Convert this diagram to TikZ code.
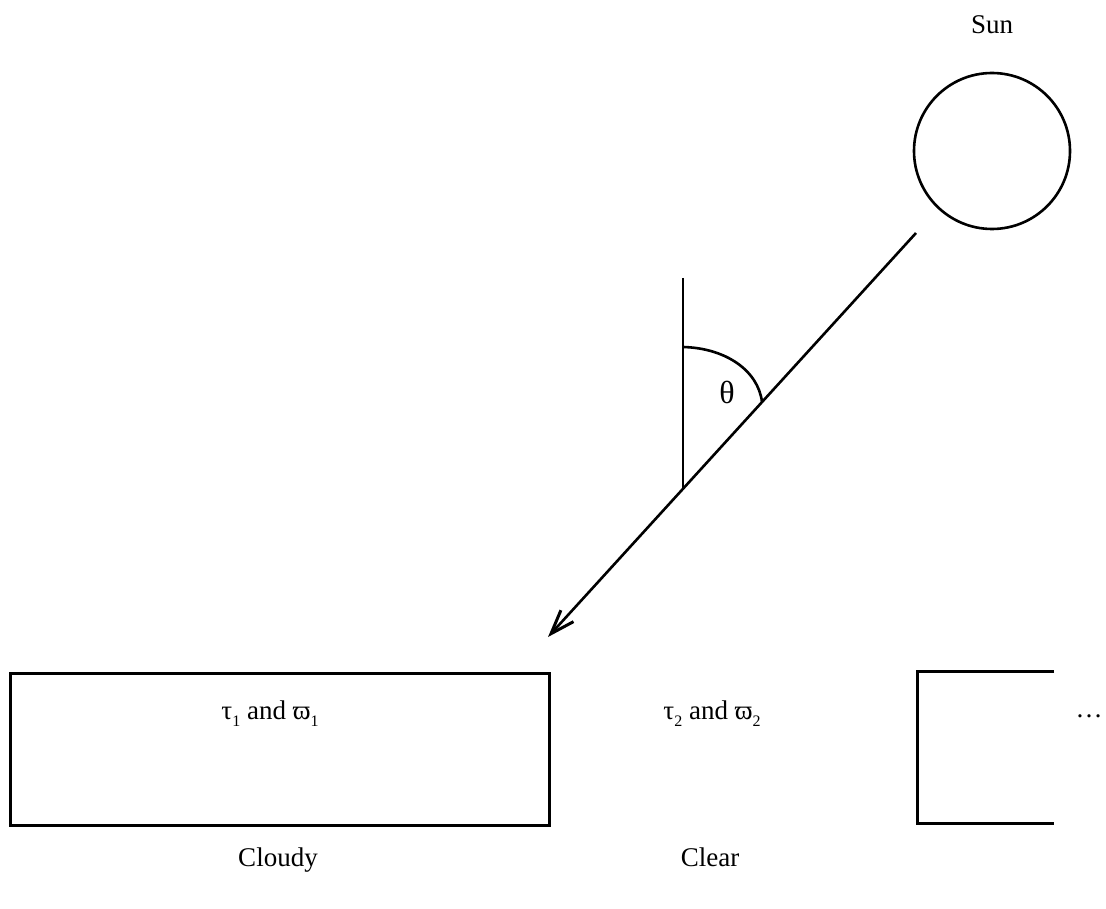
\documentclass[tikz,border=0pt]{standalone}
\usepackage{fontspec}
\setmainfont{Liberation Serif}
\usetikzlibrary{arrows.meta}
\newcommand{\lowsub}[1]{\raisebox{-0.28em}{\fontsize{16}{16}\selectfont #1}}
\tikzset{
  lbl/.style={font=\fontsize{27}{30}\selectfont, inner sep=0pt},
  ln/.style={line width=2.6pt},
  boxline/.style={line width=3pt},
}
\begin{document}
\begin{tikzpicture}[x=1pt,y=-1pt]
\useasboundingbox (0,0) rectangle (1106,909);
% Sun
\node[draw, circle, ln, minimum size=156pt, inner sep=0pt] (sun) at (992,151) {};
\node[lbl, anchor=base] (sunlbl) at (992,34) {Sun};
% incident ray
\coordinate (rs) at (916,233);
\coordinate (tip) at (548,637);
\draw[ln, -{Straight Barb[length=24pt,width=17pt,line width=3pt]}] (rs) -- (tip);
% vertical
\coordinate (vtop) at (683,278);
\coordinate (vbot) at (683,488);
\draw[ln] (vtop) -- (vbot);
% angle arc
\coordinate (a1) at (683,347);
\coordinate (a2) at (762,402);
\draw[ln] (a1) .. controls (725,348) and (758,370) .. (a2);
\node[lbl, font=\fontsize{32}{34}\selectfont] (theta) at (727,392) {θ};
% cloudy box
\node[draw, boxline, minimum width=539pt, minimum height=152pt, inner sep=0pt] (cloudy) at (279.5,749) {};
\node[lbl, anchor=base] (t1) at (270,719) {τ\lowsub{1} and ϖ\lowsub{1}};
% clear text
\node[lbl, anchor=base] (t2) at (712,719) {τ\lowsub{2} and ϖ\lowsub{2}};
% right box (open right side)
\coordinate (r1) at (1054,671);
\coordinate (r2) at (917,671);
\coordinate (r3) at (917,823);
\coordinate (r4) at (1054,823);
\draw[boxline] (r1) -- (r2) -- (r3) -- (r4);
\node[lbl, anchor=base] (dots) at (1089,717) {\dots};
% labels
\node[lbl, anchor=base] (cl) at (278,866) {Cloudy};
\node[lbl, anchor=base] (cr) at (710,866) {Clear};
\end{tikzpicture}
\end{document}
